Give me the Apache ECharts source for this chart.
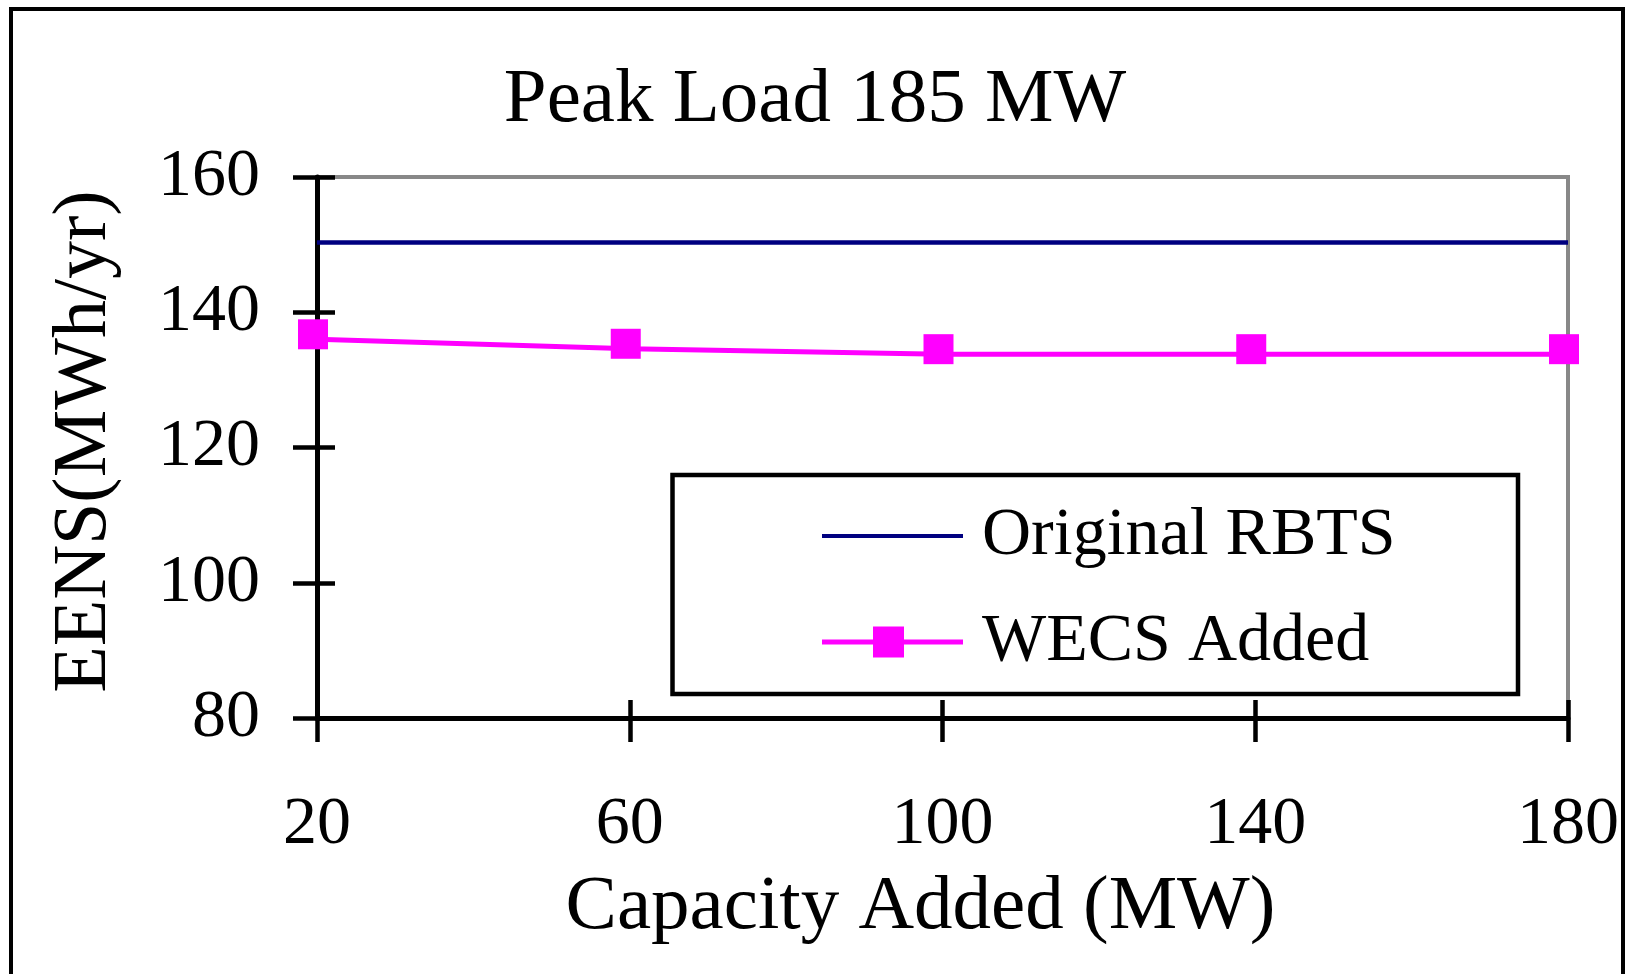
<!DOCTYPE html>
<html>
<head>
<meta charset="utf-8">
<title>Peak Load 185 MW</title>
<script src="https://cdn.jsdelivr.net/npm/echarts@6/dist/echarts.min.js"></script>
<style>
  html, body { margin: 0; padding: 0; background: #ffffff; }
  #chart { width: 1630px; height: 974px; }
</style>
</head>
<body>
<div id="chart"></div>
<script>
// Capacity added (MW) on the x axis
const capacityAdded = ['20', '60', '100', '140', '180'];
// EENS (MWh/yr) of the base system, unchanged by added capacity
const originalRbts = [150.3, 150.3, 150.3, 150.3, 150.3];
// EENS (MWh/yr) with wind energy conversion systems added
const wecsAdded = [136.0, 134.6, 133.8, 133.8, 133.8];
// y axis ticks
const eensTicks = { min: 80, max: 160, interval: 20 };

const FONT = '"Liberation Serif", "Times New Roman", serif';

const chart = echarts.init(document.getElementById('chart'), null, { renderer: 'canvas' });

const valueAxisBase = {
  type: 'value',
  min: eensTicks.min,
  max: eensTicks.max,
  interval: eensTicks.interval,
  splitLine: { show: false }
};

chart.setOption({
  backgroundColor: '#ffffff',
  animation: false,
  title: {
    text: 'Peak Load 185 MW',
    left: 'center',
    top: 62,
    padding: 0,
    textStyle: { fontFamily: FONT, fontSize: 77, fontWeight: 'normal', color: '#000' }
  },
  grid: {
    left: 317, right: 62, top: 177, bottom: 256,
    show: true,
    borderColor: '#888888',
    borderWidth: 4,
    backgroundColor: 'transparent'
  },
  legend: {
    orient: 'vertical',
    left: 822,
    top: 502,
    padding: 0,
    itemGap: 38,
    itemWidth: 141,
    itemHeight: 31,
    symbolKeepAspect: true,
    itemStyle: { borderWidth: 0 },
    textStyle: {
      fontFamily: FONT, fontSize: 68, lineHeight: 68, color: '#000',
      padding: [0, 0, 0, 14]
    },
    data: [
      { name: 'Original RBTS', icon: 'path://M0,13.5H141V17.5H0Z' },
      { name: 'WECS Added', icon: 'path://M0,13H51V18H0Z M51,0H82V31H51Z M82,13H141V18H82Z' }
    ]
  },
  xAxis: [
    {
      type: 'category',
      data: capacityAdded,
      boundaryGap: false,
      name: 'Capacity Added (MW)',
      nameLocation: 'middle',
      nameGap: 151,
      nameTextStyle: { fontFamily: FONT, fontSize: 77, color: '#000', padding: [0, 44, 0, 0] },
      axisLine: { show: true, lineStyle: { color: '#000', width: 5 } },
      axisTick: { show: true, inside: false, length: 24, lineStyle: { color: '#000', width: 4.5 } },
      axisLabel: { margin: 73, fontFamily: FONT, fontSize: 68, color: '#000', lineHeight: 68 },
      splitLine: { show: false }
    },
    {
      // inner half of the crossing x ticks
      type: 'category',
      data: capacityAdded,
      boundaryGap: false,
      position: 'bottom',
      axisLine: { show: false },
      axisTick: { show: true, inside: true, length: 18, lineStyle: { color: '#000', width: 4.5 } },
      axisLabel: { show: false },
      splitLine: { show: false }
    }
  ],
  yAxis: [
    Object.assign({}, valueAxisBase, {
      name: 'EENS(MWh/yr)',
      nameLocation: 'middle',
      nameGap: 194,
      nameTextStyle: { fontFamily: FONT, fontSize: 76, color: '#000', padding: [0, 0, 0, 12] },
      axisLine: { show: true, lineStyle: { color: '#000', width: 5 } },
      axisTick: { show: true, inside: false, length: 24, lineStyle: { color: '#000', width: 4.5 } },
      axisLabel: { margin: 57, fontFamily: FONT, fontSize: 68, color: '#000' }
    }),
    Object.assign({}, valueAxisBase, {
      // inner half of the crossing y ticks
      position: 'left',
      axisLine: { show: false },
      axisTick: { show: true, inside: true, length: 18, lineStyle: { color: '#000', width: 4.5 } },
      axisLabel: { show: false }
    })
  ],
  series: [
    {
      name: 'Original RBTS',
      type: 'line',
      data: originalRbts,
      symbol: 'none',
      lineStyle: { color: '#000080', width: 4.5 },
      itemStyle: { color: '#000080' },
      z: 3
    },
    {
      name: 'WECS Added',
      type: 'line',
      data: wecsAdded,
      symbol: 'rect',
      symbolSize: 30,
      symbolOffset: [-4, -5],
      lineStyle: { color: '#FF00FF', width: 5 },
      itemStyle: { color: '#FF00FF' },
      z: 4
    }
  ],
  graphic: [
    {
      // outer frame of the figure
      type: 'rect',
      shape: { x: 11, y: 9, width: 1612, height: 1000 },
      style: { fill: 'none', stroke: '#000', lineWidth: 4 },
      silent: true
    },
    {
      // legend frame
      type: 'rect',
      shape: { x: 672.5, y: 475, width: 845.5, height: 219 },
      style: { fill: 'none', stroke: '#000', lineWidth: 4.5 },
      silent: true,
      z: 1
    }
  ]
});
</script>
</body>
</html>
